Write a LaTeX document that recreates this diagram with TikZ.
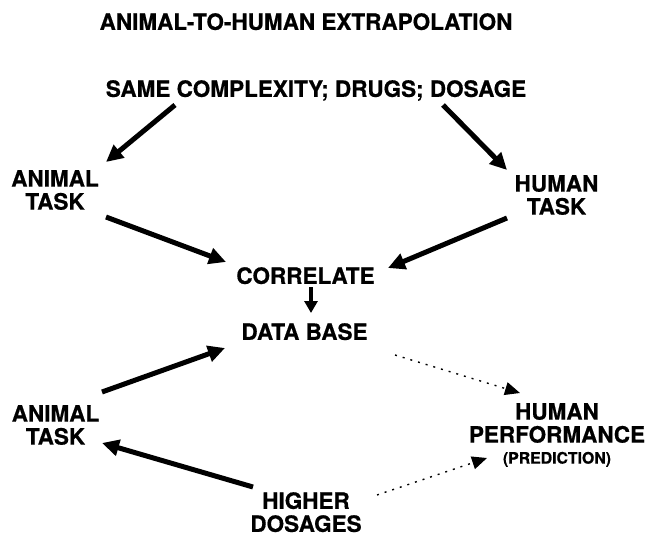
\documentclass[tikz,border=0pt]{standalone}
\usepackage{fontspec}
\setmainfont{TeX Gyre Heros}[BoldFeatures={FakeBold=0.6}]
\usetikzlibrary{arrows.meta}
\begin{document}
\begin{tikzpicture}[x=1pt,y=-1pt,
  lbl/.style={anchor=north,inner sep=0pt,align=center,font=\bfseries\fontsize{22.5}{23}\selectfont},
  thickarrow/.style={line width=5pt,-{Triangle[length=17pt,width=16pt]}},
  smallarrow/.style={line width=4pt,-{Triangle[length=12pt,width=13pt]}},
  dotarrow/.style={line width=1.4pt,dash pattern=on 2pt off 6pt,-{Triangle[length=15pt,width=13pt]}}]
\useasboundingbox (0,0) rectangle (647,535);
\node[lbl] (title) at (306,13) {ANIMAL-TO-HUMAN EXTRAPOLATION};
\node[lbl] (same) at (316,80) {SAME COMPLEXITY; DRUGS; DOSAGE};
\node[lbl] (animalA) at (55,170) {ANIMAL\\TASK};
\node[lbl] (humanT) at (556.5,175) {HUMAN\\TASK};
\node[lbl] (corr) at (305.5,267) {CORRELATE};
\node[lbl] (data) at (304.5,323) {DATA BASE};
\node[lbl] (animalB) at (55.5,405) {ANIMAL\\TASK};
\node[lbl] (humanP) at (557,403) {HUMAN\\PERFORMANCE\\[-2pt]{\fontsize{15.8}{17}\selectfont(PREDICTION)}};
\node[lbl] (higher) at (306,492) {HIGHER\\DOSAGES};

\draw[thickarrow] ([shift={(-141,25)}]same.north) -- ([shift={(51,-8)}]animalA.north);
\draw[thickarrow] ([shift={(127,25)}]same.north) -- ([shift={(-49.5,-5)}]humanT.north);
\draw[thickarrow] ([shift={(51,47)}]animalA.north) -- ([shift={(-79.5,-5)}]corr.north);
\draw[thickarrow] ([shift={(-49.5,43)}]humanT.north) -- ([shift={(82.5,1)}]corr.north);
\draw[smallarrow] ([shift={(5.5,20)}]corr.north) -- ([shift={(6.5,-10)}]data.north);
\draw[thickarrow] ([shift={(46.5,-13)}]animalB.north) -- ([shift={(-79.5,25)}]data.north);
\draw[dotarrow] ([shift={(90.5,32)}]data.north) -- ([shift={(-37,-10)}]humanP.north);
\draw[thickarrow] ([shift={(-53,-5)}]higher.north) -- ([shift={(46.5,38)}]animalB.north);
\draw[dotarrow] ([shift={(71,3)}]higher.north) -- ([shift={(-70,55)}]humanP.north);
\end{tikzpicture}
\end{document}
